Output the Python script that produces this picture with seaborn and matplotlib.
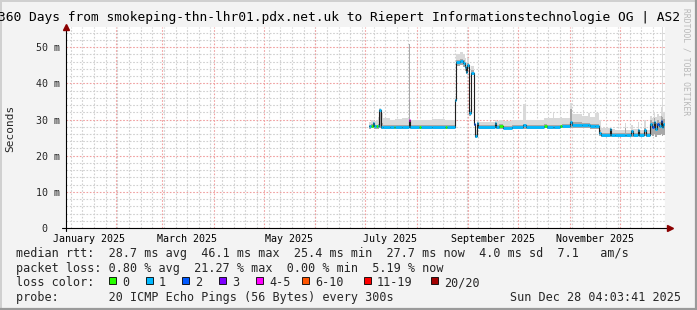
import numpy as np
import pandas as pd
import matplotlib
matplotlib.use("Agg")
import matplotlib.pyplot as plt
import matplotlib.dates as mdates
from matplotlib.ticker import FixedLocator, MultipleLocator
from matplotlib.lines import Line2D
from matplotlib.patches import Rectangle
import seaborn as sns

# ---------------- data ----------------
START = pd.Timestamp("2025-01-02 04:03:41")
END = pd.Timestamp("2025-12-28 04:03:41")

# breakpoints (days since START); values hold until the next breakpoint
day = [182.3, 183.5, 184.3, 185.2, 186.5, 187.6, 188.4, 189.2, 190.5, 195.0,
       197.0, 198.0, 202.0, 206.3, 207.0, 212.0, 213.5, 220.0, 228.0, 228.8,
       233.8, 234.6, 236.5, 238.5, 240.0, 240.7, 241.3, 242.0, 243.4, 245.2,
       246.1, 247.0, 247.8, 257.7, 258.7, 260.5, 262.5, 268.0, 274.8, 276.3,
       287.0, 289.0, 292.5, 293.5, 297.0, 298.0, 302.9, 303.9, 310.0, 313.5,
       315.0, 318.0, 320.5, 321.5, 326.8, 327.5, 330.0, 335.8, 336.6, 339.8,
       340.6, 343.5, 344.5, 347.6, 348.6, 351.0, 352.2, 353.2, 354.2, 355.2,
       356.2, 357.4, 358.3, 359.0, 360.0]
median_ms = [28.1, 28.1, 29.0, 28.1, 28.1, 28.2, 32.7, 28.0, 27.9, 28.0,
             28.0, 28.0, 28.0, 29.9, 28.0, 28.0, 28.0, 28.0, 28.0, 28.0,
             35.4, 45.8, 46.1, 45.6, 44.5, 43.2, 45.0, 31.8, 43.0, 28.8,
             25.5, 29.0, 28.0, 29.0, 28.0, 28.2, 27.8, 27.9, 28.4, 28.0,
             28.3, 28.0, 28.0, 28.0, 28.1, 28.2, 29.2, 28.5, 28.5, 28.5,
             28.2, 28.3, 26.3, 25.8, 27.4, 25.7, 25.7, 25.8, 25.7, 26.7,
             25.7, 27.1, 25.7, 27.2, 25.7, 28.8, 28.0, 29.3, 27.5, 28.8,
             28.2, 29.6, 28.0, 28.8, 28.8]
loss_bucket = [1, 0, 1, 1, 0, 1, 1, 1, 1, 1,
               0, 1, 1, 4, 1, 0, 1, 1, 0, 1,
               1, 1, 1, 1, 1, 1, 1, 1, 1, 2,
               1, 1, 1, 1, 1, 0, 1, 1, 1, 1,
               0, 1, 1, 1, 0, 1, 1, 1, 1, 1,
               1, 1, 1, 1, 1, 1, 1, 1, 1, 1,
               1, 1, 1, 1, 1, 1, 2, 1, 1, 2,
               1, 2, 1, 1, 1]
smoke_lo = [27.5, 27.6, 27.6, 27.5, 27.5, 27.4, 27.6, 27.3, 27.4, 27.5,
            27.5, 27.5, 27.5, 27.6, 27.4, 27.4, 27.4, 27.5, 27.5, 27.5,
            34.8, 44.8, 45.0, 44.5, 43.5, 42.5, 44.0, 31.0, 42.3, 28.2,
            24.9, 28.0, 27.5, 27.6, 27.4, 27.4, 27.3, 27.4, 27.5, 27.5,
            27.6, 27.5, 27.5, 27.5, 27.6, 27.6, 27.7, 27.8, 27.8, 27.8,
            27.5, 27.4, 25.5, 25.2, 25.3, 25.2, 25.2, 25.2, 25.2, 25.3,
            25.2, 25.4, 25.2, 25.5, 25.2, 25.6, 25.5, 26.0, 25.3, 25.8,
            25.6, 26.0, 25.5, 25.8, 25.8]
smoke_hi = [29.4, 29.8, 29.9, 29.6, 29.8, 30.6, 33.2, 31.7, 30.3, 30.0,
            30.0, 30.2, 30.5, 50.8, 30.0, 29.8, 29.9, 30.1, 29.9, 29.8,
            36.5, 48.2, 48.8, 48.0, 47.0, 46.0, 47.0, 33.0, 44.8, 30.0,
            27.0, 30.0, 29.3, 29.8, 29.6, 29.8, 29.7, 29.9, 34.2, 30.0,
            30.5, 30.4, 32.0, 30.5, 30.6, 30.5, 34.6, 31.5, 31.0, 31.7,
            30.8, 31.7, 30.0, 27.8, 28.0, 27.3, 27.0, 29.0, 27.0, 28.5,
            27.5, 29.3, 27.2, 30.0, 27.0, 31.0, 30.5, 32.0, 30.8, 31.5,
            31.0, 33.6, 60.0, 32.0, 32.0]
smoke_mid = [28.6, 28.7, 29.2, 28.6, 28.6, 28.8, 32.9, 29.0, 28.6, 28.5,
             28.5, 28.5, 28.6, 50.8, 28.5, 28.5, 28.5, 28.5, 28.5, 28.5,
             35.8, 46.6, 46.8, 46.4, 45.3, 44.0, 45.7, 32.3, 43.6, 29.3,
             26.0, 29.4, 28.5, 29.3, 28.5, 28.7, 28.3, 28.4, 28.9, 28.5,
             28.8, 28.5, 28.5, 28.5, 28.6, 28.7, 33.0, 29.2, 29.0, 29.0,
             28.7, 28.8, 27.0, 26.3, 27.6, 26.2, 26.2, 27.8, 26.2, 27.0,
             26.2, 27.5, 26.2, 27.6, 26.2, 29.8, 29.4, 30.5, 29.0, 30.0,
             29.3, 31.0, 30.8, 30.2, 30.2]

loss_labels = ["0", "1", "2", "3", "4-5", "6-10", "11-19", "20/20"]
loss_colors = ["#26ff00", "#00b8ff", "#0059ff", "#7e00ff", "#ff00ff",
               "#ff5500", "#ff0000", "#a10000"]

month_labels = ["January 2025", "March 2025", "May 2025", "July 2025",
                "September 2025", "November 2025"]
month_label_dates = ["2025-01-16", "2025-03-16", "2025-05-16", "2025-07-16",
                     "2025-09-16", "2025-11-16"]
ytick_vals = [0, 10, 20, 30, 40, 50]
ytick_labels = ["0  ", "10 m", "20 m", "30 m", "40 m", "50 m"]

legend_rtt = "median rtt:  28.7 ms avg  46.1 ms max  25.4 ms min  27.7 ms now  4.0 ms sd  7.1   am/s"
legend_loss = "packet loss: 0.80 % avg  21.27 % max  0.00 % min  5.19 % now"
legend_probe = "probe:       20 ICMP Echo Pings (56 Bytes) every 300s"
legend_date = "Sun Dec 28 04:03:41 2025"
title = "360 Days from smokeping-thn-lhr01.pdx.net.uk to Riepert Informationstechnologie OG | AS2"

# ---------------- style ----------------
sns.set_style("white")
plt.rcParams["font.family"] = ["DejaVu Sans Mono"]

W, H = 697, 310
fig = plt.figure(figsize=(W / 100, H / 100), dpi=100, facecolor="#f3f3f3")


def fx(x):
    return x / W


def fy(y):
    return 1 - y / H


L, R, T, B = 66, 665, 27, 228
ax = fig.add_axes([fx(L), fy(B), (R - L) / W, (B - T) / H])
ax.set_facecolor("white")

df = pd.DataFrame({
    "time": START + pd.to_timedelta(day, unit="D"),
    "median": median_ms,
    "loss": loss_bucket,
    "lo": smoke_lo,
    "hi": smoke_hi,
    "mid": smoke_mid,
})

# smoke
ax.fill_between(df["time"], df["lo"], df["hi"], step="post",
                color="#d9d9d9", lw=0, zorder=2)
ax.fill_between(df["time"], df["lo"], df["mid"], step="post",
                color="#a8a8a8", lw=0, zorder=3)

# median (dark line)
sns.lineplot(data=df, x="time", y="median", drawstyle="steps-post",
             color="#202020", lw=0.8, estimator=None, ax=ax, zorder=4,
             legend=False)

# loss colored median segments
tnum = mdates.date2num(df["time"])
for k, c in enumerate(loss_colors):
    idx = [i for i in range(len(df) - 1) if df["loss"][i] == k]
    if idx:
        ax.hlines([df["median"][i] for i in idx],
                  [tnum[i] for i in idx], [tnum[i + 1] for i in idx],
                  colors=c, lw=2.0, zorder=5)

ax.set_xlim(START, END)
ax.set_ylim(0, 55.6)
ax.set_xlabel("")
ax.set_ylabel("")

# grid
red_grid = "#f0a0a0"
gray_grid = "#d0d0d0"
dots = (0, (1.5, 1.5))
for wk in pd.date_range("2025-01-05", END, freq="7D"):
    ax.axvline(wk, color=gray_grid, lw=0.8, ls=dots, zorder=0)
month_starts = pd.date_range("2025-02-01", "2025-12-01", freq="MS")
ax.xaxis.set_major_locator(FixedLocator(mdates.date2num(pd.to_datetime(month_label_dates))))
ax.set_xticklabels(month_labels)
ax.xaxis.set_minor_locator(FixedLocator(mdates.date2num(month_starts)))
ax.grid(which="minor", axis="x", color=red_grid, lw=0.8, ls=dots, zorder=1)
ax.grid(which="major", axis="x", visible=False)

ax.yaxis.set_major_locator(FixedLocator(ytick_vals))
ax.set_yticklabels(ytick_labels)
ax.yaxis.set_minor_locator(MultipleLocator(2))
ax.grid(which="minor", axis="y", color=gray_grid, lw=0.8, ls=dots, zorder=0)
ax.grid(which="major", axis="y", color=red_grid, lw=0.8, ls=dots, zorder=1)
ax.set_axisbelow(True)

ax.tick_params(axis="x", which="major", length=0, pad=4, labelsize=7.2,
               labelcolor="#000000")
ax.tick_params(axis="x", which="minor", length=3, width=0.7,
               color="#e06060", direction="inout")
ax.tick_params(axis="y", which="major", length=3, width=0.7, color="#e06060",
               direction="inout", pad=3, labelsize=7.2)
ax.tick_params(axis="y", which="minor", length=2, width=0.6, color="#909090",
               direction="out")

for s in ax.spines.values():
    s.set_visible(False)

# axis lines with arrows
ax.plot([-0.006, 1.006], [0, 0], transform=ax.transAxes, color="black",
        lw=0.8, clip_on=False, zorder=6)
ax.plot([0, 0], [-0.015, 1.0], transform=ax.transAxes, color="black",
        lw=0.8, clip_on=False, zorder=6)
ax.plot([1.008], [0], marker=">", ms=4, color="#8b0000",
        transform=ax.transAxes, clip_on=False, zorder=7)
ax.plot([0], [1.0], marker="^", ms=4, color="#8b0000",
        transform=ax.transAxes, clip_on=False, zorder=7)

# ---------------- texts ----------------
fig.text(fx(-2), fy(18), title, ha="left", va="center", fontsize=9.3,
         color="#000000")
fig.text(fx(10.5), fy(128), "Seconds", rotation=90, ha="center",
         va="center", fontsize=8)
fig.text(fx(686), fy(62), "RRDTOOL / TOBI OETIKER", rotation=270,
         ha="center", va="center", fontsize=5.8, color="#b8b8b8")

LF = 8.5
fig.text(fx(16), fy(254), legend_rtt, ha="left", va="center", fontsize=LF)
fig.text(fx(16), fy(268.5), legend_loss, ha="left", va="center", fontsize=LF)

fig.text(fx(16), fy(283), "loss color:", ha="left", va="center", fontsize=LF)
sq_x = [109, 145.5, 182.3, 219.3, 256, 302, 363.5, 431]
for x, lab, c in zip(sq_x, loss_labels, loss_colors):
    fig.add_artist(Rectangle((fx(x), fy(284)), 7 / W, 7 / H,
                             transform=fig.transFigure, facecolor=c,
                             edgecolor="black", lw=0.6))
    fig.text(fx(x + 13), fy(283), lab, ha="left", va="center", fontsize=LF)

fig.text(fx(16), fy(297.5), legend_probe, ha="left", va="center", fontsize=LF)
fig.text(fx(681), fy(297.5), legend_date, ha="right", va="center",
         fontsize=LF)

# frame
fig.add_artist(Line2D([0, 1], [fy(0.8), fy(0.8)], transform=fig.transFigure,
                      color="#d0d0d0", lw=1.4))
fig.add_artist(Line2D([fx(0.8), fx(0.8)], [0, 1], transform=fig.transFigure,
                      color="#d0d0d0", lw=1.4))
fig.add_artist(Line2D([0, 1], [fy(309), fy(309)], transform=fig.transFigure,
                      color="#9a9a9a", lw=1.6))
fig.add_artist(Line2D([fx(696), fx(696)], [0, 1], transform=fig.transFigure,
                      color="#9a9a9a", lw=1.6))

fig.savefig("out.png", dpi=100, facecolor=fig.get_facecolor())
